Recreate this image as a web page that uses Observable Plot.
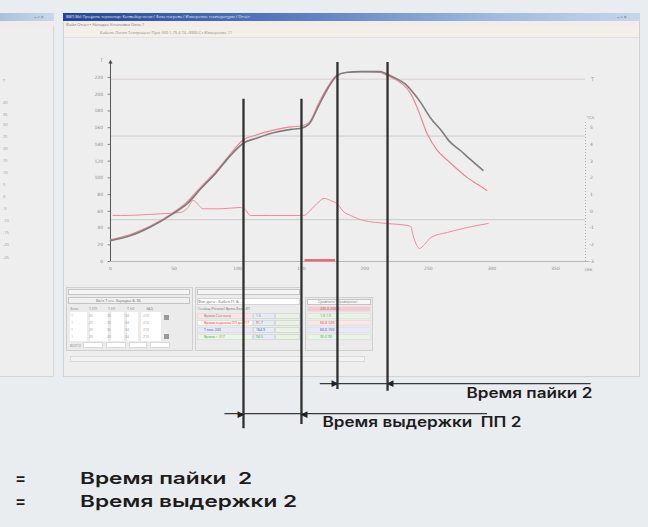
<!DOCTYPE html>
<html><head><meta charset="utf-8">
<script src="https://cdn.jsdelivr.net/npm/d3@7"></script>
<script src="https://cdn.jsdelivr.net/npm/@observablehq/plot@0.6"></script>
<style>
html,body{margin:0;padding:0;background:#eaedf0;width:648px;height:527px;overflow:hidden;font-family:"Open Sans",sans-serif;}
#root{position:relative;width:648px;height:527px;}
.b{position:absolute;box-sizing:border-box;}
.t{position:absolute;font-size:4.5px;color:#888;white-space:nowrap;line-height:6px;}
.leg{position:absolute;font-family:Inter,"Open Sans",sans-serif;font-weight:600;font-size:16.5px;color:#1c1c1c;white-space:pre;transform-origin:0 0;line-height:20px;}
#chart svg{position:absolute;left:0;top:0;overflow:visible;}
#chart svg text{white-space:pre;}
</style></head><body><div id="root"><div id="chrome"></div><div id="chart"></div></div>
<script>
// ---- data (time in s, temperature in °C, rate in °C/s) ----
const profileTime = [0,16,31,49,61,71,83,94,105,114,128,142,149,156,164,171,178,185,197,212,216,223,232,238,244,252,260,267,275,283,293];
const profileTemp = [25,31,41,57,70,87,106,126,142,147,154,158,159,164,187,207,222,226,227,227,225,220,212,202,190,171,157,143,133,122,109];
const boardTime = [0,15,31,49,60,71,83,94,104,114,128,142,150,156,164,171,178,185,197,212,218,228,236,242,249,257,265,273,281,289,296];
const boardTemp = [26,32,42,58,71,89,108,128,145,151,157,161,162,166,190,209,223,226,227,226,222,214,201,181,153,133,121,110,100,92,85];
const rateTime = [2,8,39,55,61,65,69,73,87,102,106,110,126,152,157,164,168,173,179,183,189,199,218,234,236,238,241,243,247,252,265,281,297];
const rateValue = [-0.25,-0.25,-0.15,-0.07,0.23,0.65,0.4,0.15,0.15,0.23,0.1,-0.25,-0.25,-0.25,0.05,0.58,0.77,0.65,0.4,0,-0.25,-0.55,-0.73,-0.85,-0.9,-1.45,-2.05,-2.22,-1.98,-1.56,-1.26,-0.96,-0.73];
const xTicks = [0,50,100,150,200,250,300,350];
const yTicks = [0,20,40,60,80,100,120,140,160,180,200,220];
const rateTicks = [-3,-2,-1,0,1,2,3,4,5];
const gridLevels = [218,150,50];
const liquidusStart = 153, liquidusEnd = 177;
const markerTime = [104.6,150.2,178.5,217.9];
const markerTop = [194,194,238,238];
const markerBottom = [-200,-195,-153,-155];
const spanLabels = ["Время пайки 2","Время выдержки  ПП 2"];
const spanStart = [165,90];
const spanEnd = [378,296.5];
const spanLevel = [-146,-182];
const spanFrom = [178.5,104.6];
const spanTo = [217.9,150.2];
const legendLabels = ["Время пайки  2","Время выдержки 2"];

// ---- window chrome (screenshot) ----
const chrome = document.getElementById("chrome");
function box(l,t,w,h,style){const d=document.createElement("div");d.className="b";Object.assign(d.style,{left:l+"px",top:t+"px",width:w+"px",height:h+"px"},style||{});chrome.appendChild(d);return d;}
function txt(l,t,s,style){const d=document.createElement("div");d.className="t";d.textContent=s;Object.assign(d.style,{left:l+"px",top:t+"px"},style||{});chrome.appendChild(d);return d;}
// left partial window
box(0,13,54,364,{background:"#eeeeee",borderRight:"1px solid #d6d6d6",borderBottom:"1px solid #d6d6d6"});
box(0,13,54,8,{background:"linear-gradient(to right,#a9c2dc,#c9d8e8)"});
txt(34,13.5,"– ▫ ×",{color:"#666",fontSize:"5px"});
box(0,21,54,5,{background:"#f2ece8"});
[78,100,112,122,134,146,158,170,182,194,206,218,230,242,255].forEach((y,i)=>txt(3,y,["T","40","35","30","25","20","15","10","5","0","-5","-10","-15","-20","-25"][i],{fontSize:"4px",color:"#999"}));
// main window
box(63,13,577,364,{background:"#eeeeee",border:"1px solid #d2d2d2"});
box(63,13,577,8,{background:"linear-gradient(to right,#23449a 0%,#5a7cc0 40%,#9fbbe0 75%,#c6d6ea 100%)"});
txt(66,14,"ВВП-ВЫ  Профиль термопар: Конвейер печи / Зона нагрева / Измерение температуры  /  Отчёт",{color:"#e8eef8",fontSize:"4px"});
txt(617,13.5,"– ▫ ×",{color:"#555",fontSize:"5px"});
box(64,21,575,6,{background:"#f3ece8"});
txt(66,21.5,"Файл  Отчет  •  Наладка  Установки  Окно  ?",{fontSize:"4px",color:"#777"});
box(64,27,575,11,{background:"#f3f0ea",borderBottom:"1px solid #e2e2e2"});
txt(100,30,"Кабель  Логин  Техпроцесс  Пуск  500  1.75  4  Т4=0000-Ст  Измерение 11",{fontSize:"4px",color:"#888"});
// table 1
box(66,287,127,64,{background:"#ebebeb",border:"1px solid #cfcfcf"});
box(68,289,122,6,{background:"#f5f5f5",border:"1px solid #c4c4c4"});
box(68,297,122,7,{background:"#f0f0f0",border:"1px solid #c4c4c4"});
txt(96,297.5,"Вх/х Т.оч. Зарядка & ЗБ",{fontSize:"4px",color:"#777"});
["Зона","Т.ПП","Т.Н1","Т.Н2","ЗАД"].forEach((s,i)=>txt(70+i*19,305.5,s,{fontSize:"3.6px",color:"#888"}));
[[70,17],[90,18],[111,13],[127,11],[141,20]].forEach(([l,w])=>box(l,312,w,29,{background:"#ffffff"}));
[0,1,2,3].forEach(r=>{["1","25","30","34","210"].forEach((s,i)=>txt(71+i*18,313+r*7,s,{fontSize:"3.5px",color:"#999"}));});
box(164,315,5,5,{background:"#9a9a9a"});box(164,334,5,5,{background:"#9a9a9a"});
txt(70,343,"ВСЕГО",{fontSize:"3.5px",color:"#888"});
[[83,20],[106,20],[129,18],[150,20]].forEach(([l,w])=>box(l,342,w,6,{background:"#ffffff",border:"1px solid #d8d8d8"}));
// table 2
box(195,287,107,64,{background:"#ebebeb",border:"1px solid #cfcfcf"});
box(197,289,103,6,{background:"#f5f5f5",border:"1px solid #c4c4c4"});
box(197,298,103,7,{background:"#ffffff",border:"1px solid #d4d4d4"});
txt(198,298.5,"Фиг.дата : Кабел.П. & ...",{fontSize:"4px",color:"#666"});
txt(198,306,"Сообщ.(Режим) Врем.Факт.ЗП",{fontSize:"3.6px",color:"#777"});
const t2c=[["#fbe3e6","#777"],["#fff6f0","#e03a3a"],["#eae6fb","#3a4ac8"],["#e9f8e6","#3aa83a"]];
t2c.forEach(([bg,c],r)=>{const y=313+r*7;box(197,y,56,6,{background:bg,border:"1px solid #e0e0e0"});box(253,y,22,6,{background:"#e4ecf7",border:"1px solid #d8d8d8"});box(275,y,25,6,{background:"#e9f3e4",border:"1px solid #d8d8d8"});txt(204,y,["Время Сол.нагр","Время подъема ПП до 217","Т пик: 243","Время > 217"][r],{fontSize:"3.5px",color:c});txt(256,y,["1.5","91.7","164.9","94.5"][r],{fontSize:"3.5px",color:c});});
// table 3
box(305,297,68,54,{background:"#ebebeb",border:"1px solid #cfcfcf"});
box(307,299,64,6,{background:"#f7f7f7",border:"1px solid #c4c4c4"});
txt(318,299.3,"Сравнить (Проверить)",{fontSize:"3.6px",color:"#777"});
const t3c=[["#f6c9d2","#c04060"],["#e6f6e6","#3a9a3a"],["#fbe6e6","#d03030"],["#e6e9fb","#3040c0"],["#e6f6e6","#3aa83a"]];
t3c.forEach(([bg,c],r)=>{const y=306+r*7;box(307,y,64,6,{background:bg,border:"1px solid #e2e2e2"});txt(320,y,["235.0 250.0","1.0 1.5","55.0 120","60.0 150","35.0 90"][r],{fontSize:"3.6px",color:c});});
box(70,356,295,6,{background:"#f2f2f2",border:"1px solid #dadada"});

// ---- legend under picture ----
const root=document.getElementById("root");
const legendWidths=[172,217];
legendLabels.forEach((s,i)=>{
  const top=(468+i*23)+"px";
  const e=document.createElement("div");e.className="leg";e.textContent="=";e.style.left="15px";e.style.top=top;root.appendChild(e);
  const d=document.createElement("div");d.className="leg";d.textContent=s;d.style.left="80px";d.style.top=top;root.appendChild(d);
  const w=d.getBoundingClientRect().width;d.style.transform=`scaleX(${legendWidths[i]/w})`;
});

// ---- the chart ----
const profile = profileTime.map((t,i)=>({t,v:profileTemp[i]}));
const board = boardTime.map((t,i)=>({t,v:boardTemp[i]}));
const rate = rateTime.map((t,i)=>({t,r:rateValue[i]}));
const rateToY = r => 60 + 20*r;
const markers = markerTime.map((t,i)=>({t,top:markerTop[i],bottom:markerBottom[i]}));
const spans = spanLabels.map((label,i)=>({label,start:spanStart[i],end:spanEnd[i],level:spanLevel[i],from:spanFrom[i],to:spanTo[i]}));
const rightAxisT = 373.6;

const plot = Plot.plot({
  width:648, height:527,
  marginLeft:110, marginRight:93, marginTop:77, marginBottom:266,
  x:{domain:[0,350], axis:null},
  y:{domain:[0,220], axis:null},
  style:{background:"transparent", fontFamily:"'DejaVu Sans',sans-serif", overflow:"visible"},
  marks:[
    Plot.ruleY(gridLevels,{x1:0,x2:rightAxisT,stroke:(d)=>d===218?"#d9cfd0":"#cbcbcb",strokeWidth:1}),
    Plot.ruleY([0],{x1:0,x2:rightAxisT+3,stroke:"#b8b8b8"}),
    Plot.axisY({ticks:yTicks,tickSize:2.5,tickPadding:5,fontSize:4.5,color:"#8a8a8a",label:null}),
    Plot.axisX({ticks:xTicks,tickSize:0,tickPadding:5,fontSize:4.5,color:"#8a8a8a",label:null}),
    Plot.ruleX([0],{y1:0,y2:239,stroke:"#555",strokeWidth:1}),
    Plot.text(["▲"],{x:0,y:239,fontSize:5,fill:"#444"}),
    Plot.text(["T"],{x:0,y:240,dx:-9,fontSize:4.5,fill:"#888"}),
    Plot.text(["сек"],{x:rightAxisT,y:0,dy:8,dx:3,fontSize:4.5,fill:"#888"}),
    Plot.ruleX([rightAxisT],{y1:0,y2:168,stroke:"#b0b0b0",strokeDasharray:"1,2"}),
    Plot.text(rateTicks,{x:rightAxisT,y:rateToY,dx:6,fontSize:4.5,fill:"#8a8a8a"}),
    Plot.text(["°C/с"],{x:rightAxisT,y:172,dx:5,fontSize:4,fill:"#8a8a8a"}),
    Plot.text(["T"],{x:rightAxisT,y:218,dx:7,fontSize:5,fill:"#999"}),
    Plot.ruleY([1.5],{x1:liquidusStart,x2:liquidusEnd,stroke:"#e86c80",strokeWidth:2.5}),
    Plot.line(rate,{x:"t",y:d=>rateToY(d.r),stroke:"#f08a9c",strokeWidth:1,curve:"monotone-x"}),
    Plot.line(board,{x:"t",y:"v",stroke:"#ec8494",strokeWidth:1.2,curve:"monotone-x"}),
    Plot.line(profile,{x:"t",y:"v",stroke:"#7d7d7d",strokeWidth:1.6,curve:"monotone-x"}),
    Plot.ruleX(markers,{x:"t",y1:"bottom",y2:"top",stroke:"#303030",strokeWidth:2.3}),
    Plot.ruleY(spans,{y:"level",x1:"start",x2:"end",stroke:"#3a3a3a",strokeWidth:1.2}),
    Plot.text(spans,{x:"from",y:"level",text:()=>"▶",textAnchor:"end",fontSize:9,fill:"#222",dx:1}),
    Plot.text(spans,{x:"to",y:"level",text:()=>"◀",textAnchor:"start",fontSize:9,fill:"#222",dx:-1}),
    Plot.text(spans.slice(0,1),{x:379,y:-158,text:"label",textAnchor:"end",fontSize:14,fontWeight:600,fontFamily:"Inter",fill:"#1c1c1c"}),
    Plot.text(spans.slice(1),{x:166.7,y:-193,text:"label",textAnchor:"start",fontSize:14,fontWeight:600,fontFamily:"Inter",fill:"#1c1c1c"})
  ]
});
document.getElementById("chart").appendChild(plot);
// stretch the two annotation labels to the reference's wide lettering
const spanWidths={[spanLabels[0]]:126,[spanLabels[1]]:199};
d3.select(plot).selectAll("text").each(function(){
  const s=this.textContent;
  if(spanWidths[s]){this.setAttribute("textLength",spanWidths[s]);this.setAttribute("lengthAdjust","spacingAndGlyphs");}
});
</script></body></html>
